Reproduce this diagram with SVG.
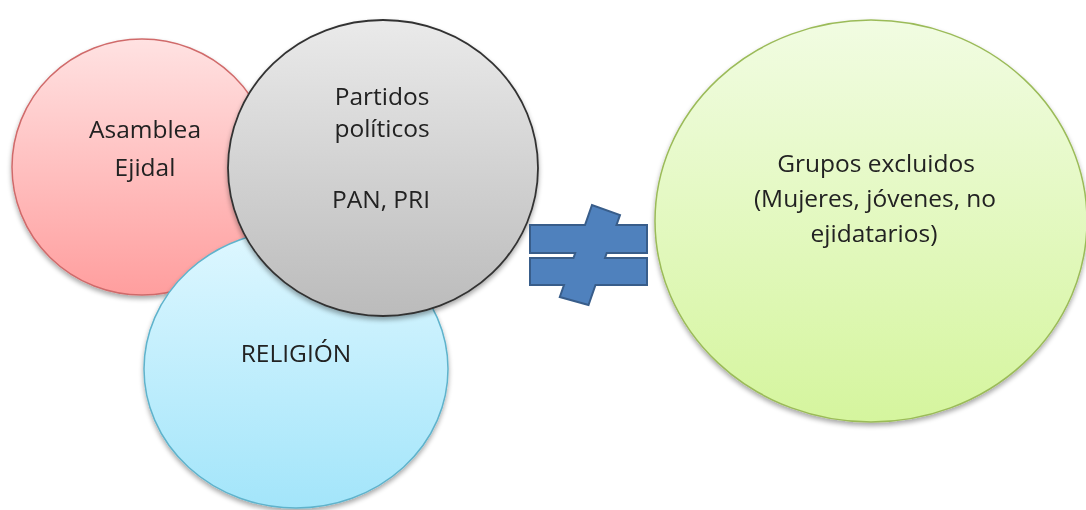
<svg xmlns="http://www.w3.org/2000/svg" width="1086" height="510" viewBox="0 0 1086 510">
  <defs>
    <linearGradient id="gRed" x1="0" y1="0" x2="0" y2="1">
      <stop offset="0" stop-color="#FFE2E2"/>
      <stop offset="1" stop-color="#FF9E9E"/>
    </linearGradient>
    <linearGradient id="gGray" x1="0" y1="0" x2="0" y2="1">
      <stop offset="0" stop-color="#EAEAEA"/>
      <stop offset="1" stop-color="#BBBBBB"/>
    </linearGradient>
    <linearGradient id="gBlue" x1="0" y1="0" x2="0" y2="1">
      <stop offset="0" stop-color="#DEF7FF"/>
      <stop offset="1" stop-color="#A3E5FA"/>
    </linearGradient>
    <linearGradient id="gGreen" x1="0" y1="0" x2="0" y2="1">
      <stop offset="0" stop-color="#F1FCE2"/>
      <stop offset="1" stop-color="#D5F59E"/>
    </linearGradient>
    <filter id="shadow" x="-10%" y="-10%" width="120%" height="125%">
      <feGaussianBlur in="SourceAlpha" stdDeviation="2.5"/>
      <feOffset dx="0" dy="3" result="b"/>
      <feComponentTransfer><feFuncA type="linear" slope="0.35"/></feComponentTransfer>
      <feMerge><feMergeNode/><feMergeNode in="SourceGraphic"/></feMerge>
    </filter>
  </defs>
  <style>
    .lbl { font-family: "Open Sans", "Noto Sans", "Liberation Sans", sans-serif; font-size: 24.5px; fill: #222222; text-anchor: middle; }
  </style>
  <rect width="1086" height="510" fill="#FFFFFF"/>

  <g id="asamblea" filter="url(#shadow)">
    <ellipse cx="142" cy="167" rx="130" ry="128" fill="url(#gRed)" stroke="#D06B6B" stroke-width="1.5"/>
    <text class="lbl" x="145" y="138">Asamblea</text>
    <text class="lbl" x="145" y="176">Ejidal</text>
  </g>

  <g id="religion" filter="url(#shadow)">
    <ellipse cx="296" cy="369" rx="152" ry="139" fill="url(#gBlue)" stroke="#5FB3CC" stroke-width="1.5"/>
    <text class="lbl" x="296" y="362">RELIGIÓN</text>
  </g>

  <g id="partidos" filter="url(#shadow)">
    <ellipse cx="383" cy="168" rx="155" ry="148" fill="url(#gGray)" stroke="#333333" stroke-width="1.8"/>
    <text class="lbl" x="382" y="105">Partidos</text>
    <text class="lbl" x="382" y="137">políticos</text>
    <text class="lbl" x="381" y="208">PAN, PRI</text>
  </g>

  <g id="grupos" filter="url(#shadow)">
    <ellipse cx="871" cy="221" rx="216" ry="201" fill="url(#gGreen)" stroke="#9BBB59" stroke-width="1.5"/>
    <text class="lbl" x="876" y="172">Grupos excluidos</text>
    <text class="lbl" x="875" y="207">(Mujeres, jóvenes, no</text>
    <text class="lbl" x="874" y="242">ejidatarios)</text>
  </g>

  <g id="connectors">
    <g id="not-equal">
      <path d="M530,225 L585,225 L592,205 L620,215 L616.5,225 L647,225 L647,253 L606.7,253 L605,258 L647,258 L647,285 L595.5,285 L588.5,305 L559.8,297 L564,285 L530,285 L530,258 L573.5,258 L575.2,253 L530,253 Z" fill="#4F81BD" stroke="#385D8A" stroke-width="2" stroke-linejoin="miter"/>
    </g>
  </g>
</svg>
